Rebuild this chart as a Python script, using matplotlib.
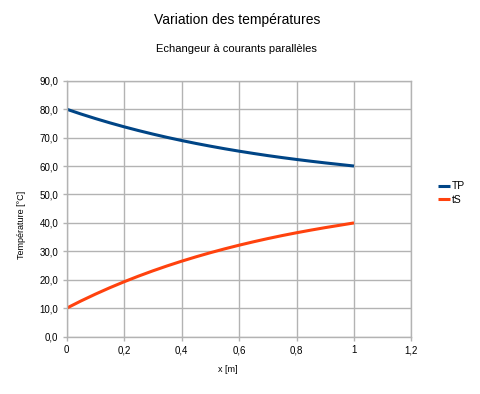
import matplotlib
matplotlib.use("Agg")
import matplotlib.pyplot as plt
from matplotlib.ticker import FuncFormatter

x = [0.0, 0.05, 0.1, 0.15, 0.2, 0.25, 0.3, 0.35, 0.4, 0.45, 0.5,
     0.55, 0.6, 0.65, 0.7, 0.75, 0.8, 0.85, 0.9, 0.95, 1.0]
TP = [80.0, 78.3, 76.71, 75.21, 73.8, 72.48, 71.24, 70.07, 68.98, 67.95, 66.99,
      66.08, 65.23, 64.43, 63.67, 62.97, 62.31, 61.69, 61.1, 60.55, 60.0]
tS = [10.0, 12.55, 14.94, 17.19, 19.3, 21.28, 23.14, 24.89, 26.53, 28.07, 29.52,
      30.88, 32.16, 33.36, 34.49, 35.55, 36.54, 37.47, 38.35, 39.17, 40.0]
xticks = [0, 0.2, 0.4, 0.6, 0.8, 1.0, 1.2]
xtick_labels = ["0", "0,2", "0,4", "0,6", "0,8", "1", "1,2"]
yticks = [0, 10, 20, 30, 40, 50, 60, 70, 80, 90]

plt.rcParams['font.family'] = ['Liberation Sans', 'DejaVu Sans']

fig = plt.figure(figsize=(4.81, 3.94), dpi=100)
ax = fig.add_axes([66.5/481, 57.3/394, 345/481, 256/394])

grid_c = '#b3b3b3'
ax.plot(x, TP, color='#004586', lw=2.2, label='TP', solid_capstyle='butt', solid_joinstyle='round')
ax.plot(x, tS, color='#ff420e', lw=2.2, label='tS', solid_capstyle='butt', solid_joinstyle='round')

ax.set_xlim(0, 1.2)
ax.set_ylim(0, 90)
ax.set_xticks(xticks)
ax.set_xticklabels(xtick_labels)
ax.set_yticks(yticks)
ax.yaxis.set_major_formatter(FuncFormatter(lambda v, p: f"{v:.1f}".replace('.', ',')))
ax.grid(True, color=grid_c, lw=1)
ax.set_axisbelow(True)
for s in ax.spines.values():
    s.set_color(grid_c)
    s.set_linewidth(1)
ax.tick_params(axis='both', colors=grid_c, length=3, width=1, labelsize=7, labelcolor='black', pad=3)

fig.text(236.7/481, 1 - 20/394, "Variation des températures", ha='center', va='center', fontsize=10)
fig.text(236.7/481, 1 - 49/394, "Echangeur à courants parallèles", ha='center', va='center', fontsize=8)
fig.text(22/481, 1 - 225/394, "Température [°C]", ha='center', va='center', rotation=90, fontsize=6.5)
fig.text(228/481, 1 - 370/394, "x [m]", ha='center', va='center', fontsize=6.5)

leg = fig.legend(loc='center left', bbox_to_anchor=(434/481, 1 - 193/394), frameon=False,
                 fontsize=7.5, handlelength=1.1, handletextpad=0.2, labelspacing=0.3, borderaxespad=0)

fig.savefig("out.png", dpi=100)
